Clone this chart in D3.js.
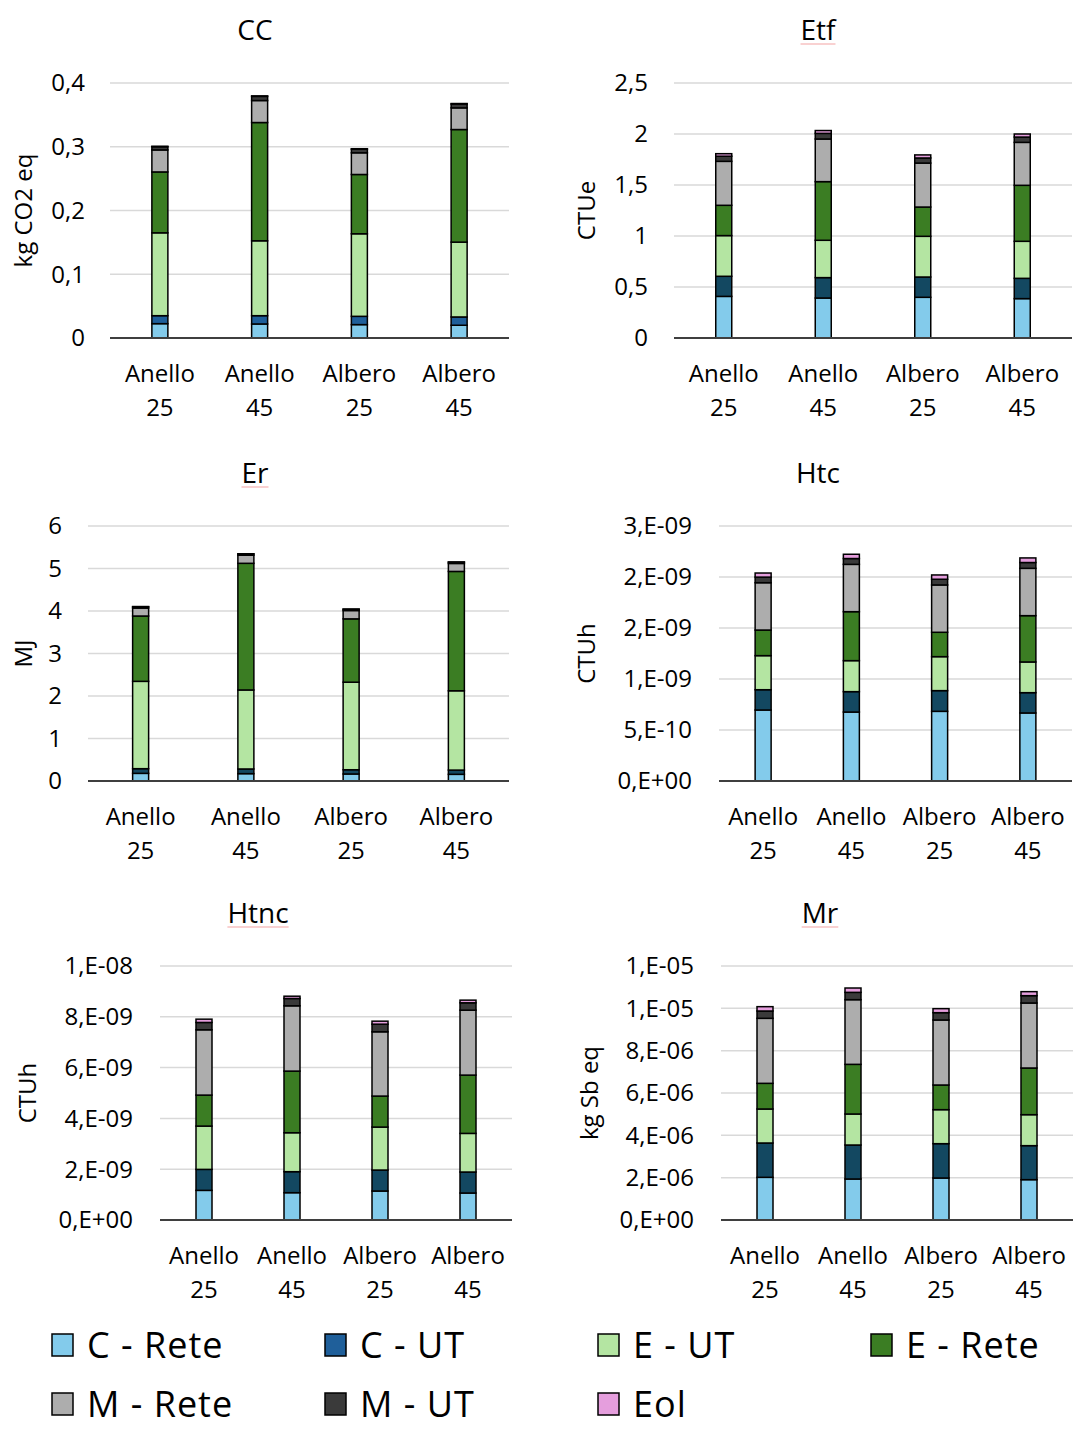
<!DOCTYPE html>
<html>
<head>
<meta charset="utf-8">
<script src="https://cdn.jsdelivr.net/npm/d3@7"></script>
<style>
  body { margin: 0; background: #fff; }
  text { font-family: "Open Sans", "Noto Sans", sans-serif; fill: #000; }
</style>
</head>
<body>
<div id="chart"></div>
<script>
    // categories on the x axis (two lines each)
    var categories = [["Anello", "25"], ["Anello", "45"], ["Albero", "25"], ["Albero", "45"]]
    var seriesNames = ["C - Rete", "C - UT", "E - UT", "E - Rete", "M - Rete", "M - UT", "Eol"]

    // one row per category, one value per series (same order as seriesNames)
    var ccValues = [
        [0.0225, 0.0125, 0.130, 0.0955, 0.0345, 0.005, 0.0008],
        [0.022, 0.013, 0.1175, 0.1855, 0.0345, 0.0065, 0.0008],
        [0.021, 0.013, 0.1295, 0.093, 0.034, 0.0056, 0.0008],
        [0.020, 0.013, 0.1174, 0.1766, 0.034, 0.006, 0.0008]
    ]
    var etfValues = [
        [0.408, 0.197, 0.399, 0.297, 0.431, 0.05, 0.025],
        [0.392, 0.200, 0.366, 0.575, 0.418, 0.055, 0.028],
        [0.399, 0.199, 0.399, 0.287, 0.431, 0.05, 0.03],
        [0.386, 0.199, 0.363, 0.549, 0.421, 0.052, 0.03]
    ]
    var erValues = [
        [0.18, 0.11, 2.055, 1.537, 0.188, 0.03, 0.005],
        [0.173, 0.11, 1.859, 2.98, 0.19, 0.03, 0.005],
        [0.165, 0.10, 2.06, 1.49, 0.196, 0.03, 0.005],
        [0.157, 0.10, 1.866, 2.808, 0.188, 0.03, 0.005]
    ]
    var htcValues = [
        [6.96e-10, 1.99e-10, 3.34e-10, 2.51e-10, 4.64e-10, 0.55e-10, 0.40e-10],
        [6.76e-10, 2.00e-10, 3.04e-10, 4.80e-10, 4.64e-10, 0.57e-10, 0.42e-10],
        [6.83e-10, 2.03e-10, 3.33e-10, 2.39e-10, 4.64e-10, 0.56e-10, 0.42e-10],
        [6.67e-10, 1.99e-10, 3.01e-10, 4.54e-10, 4.64e-10, 0.57e-10, 0.45e-10]
    ]
    var htncValues = [
        [1.167e-9, 0.826e-9, 1.705e-9, 1.22e-9, 2.571e-9, 0.288e-9, 0.13e-9],
        [1.075e-9, 0.827e-9, 1.534e-9, 2.426e-9, 2.571e-9, 0.288e-9, 0.09e-9],
        [1.141e-9, 0.826e-9, 1.692e-9, 1.22e-9, 2.531e-9, 0.30e-9, 0.118e-9],
        [1.062e-9, 0.827e-9, 1.521e-9, 2.295e-9, 2.557e-9, 0.289e-9, 0.105e-9]
    ]
    var mrValues = [
        [2.016e-6, 1.622e-6, 1.606e-6, 1.213e-6, 3.071e-6, 0.346e-6, 0.205e-6],
        [1.937e-6, 1.606e-6, 1.465e-6, 2.346e-6, 3.055e-6, 0.346e-6, 0.205e-6],
        [1.984e-6, 1.622e-6, 1.607e-6, 1.165e-6, 3.071e-6, 0.346e-6, 0.19e-6],
        [1.906e-6, 1.606e-6, 1.464e-6, 2.205e-6, 3.071e-6, 0.346e-6, 0.19e-6]
    ]

    // y ticks and their labels, as printed in the picture
    var ccTicks = [0, 0.1, 0.2, 0.3, 0.4]
    var ccTickLabels = ["0", "0,1", "0,2", "0,3", "0,4"]
    var etfTicks = [0, 0.5, 1, 1.5, 2, 2.5]
    var etfTickLabels = ["0", "0,5", "1", "1,5", "2", "2,5"]
    var erTicks = [0, 1, 2, 3, 4, 5, 6]
    var erTickLabels = ["0", "1", "2", "3", "4", "5", "6"]
    var htcTicks = [0, 5e-10, 1e-9, 1.5e-9, 2e-9, 2.5e-9]
    var htcTickLabels = ["0,E+00", "5,E-10", "1,E-09", "2,E-09", "2,E-09", "3,E-09"]
    var htncTicks = [0, 2e-9, 4e-9, 6e-9, 8e-9, 1e-8]
    var htncTickLabels = ["0,E+00", "2,E-09", "4,E-09", "6,E-09", "8,E-09", "1,E-08"]
    var mrTicks = [0, 2e-6, 4e-6, 6e-6, 8e-6, 1e-5, 1.2e-5]
    var mrTickLabels = ["0,E+00", "2,E-06", "4,E-06", "6,E-06", "8,E-06", "1,E-05", "1,E-05"]

    var colors = ["#83cbeb", "#134861", "#b4e5a2", "#3b7d23", "#adadad", "#3a3a3a", "#e59edd"]
    var ccUtColor = "#1f5f9a"

    var svg = d3.select("#chart").append("svg")
        .attr("width", 1073)
        .attr("height", 1430)
    svg.append("rect").attr("width", 1073).attr("height", 1430).attr("fill", "#fff")

    var panels = [
        {title: "CC", unit: "kg CO2 eq", values: ccValues, ticks: ccTicks, labels: ccTickLabels,
         x0: 110, x1: 509, top: 83, base: 338, labelX: 85, unitX: 24, titleX: 255, squiggle: false, utColor: ccUtColor},
        {title: "Etf", unit: "CTUe", values: etfValues, ticks: etfTicks, labels: etfTickLabels,
         x0: 674, x1: 1072, top: 83, base: 338, labelX: 648, unitX: 587, titleX: 818, squiggle: true},
        {title: "Er", unit: "MJ", values: erValues, ticks: erTicks, labels: erTickLabels,
         x0: 88, x1: 509, top: 526, base: 781, labelX: 62, unitX: 24, titleX: 255, squiggle: true},
        {title: "Htc", unit: "CTUh", values: htcValues, ticks: htcTicks, labels: htcTickLabels,
         x0: 719, x1: 1072, top: 526, base: 781, labelX: 692, unitX: 587, titleX: 818, squiggle: false},
        {title: "Htnc", unit: "CTUh", values: htncValues, ticks: htncTicks, labels: htncTickLabels,
         x0: 160, x1: 512, top: 966, base: 1220, labelX: 133, unitX: 28, titleX: 258, squiggle: true},
        {title: "Mr", unit: "kg Sb eq", values: mrValues, ticks: mrTicks, labels: mrTickLabels,
         x0: 721, x1: 1073, top: 966, base: 1220, labelX: 694, unitX: 590, titleX: 820, squiggle: true}
    ]

    function drawPanel(p) {
        var g = svg.append("g")
        var maxTick = p.ticks[p.ticks.length - 1]
        var y = d3.scaleLinear().domain([0, maxTick]).range([p.base, p.top])
        var x = d3.scaleBand().domain(categories.map(c => c.join(" "))).range([p.x0, p.x1])

        // gridlines
        g.selectAll(".grid")
            .data(p.ticks.slice(1))
            .join("line")
                .attr("x1", p.x0).attr("x2", p.x1)
                .attr("y1", d => y(d)).attr("y2", d => y(d))
                .attr("stroke", "#d9d9d9")
                .attr("stroke-width", 1.5)

        // y tick labels
        g.selectAll(".tick")
            .data(p.ticks)
            .join("text")
                .attr("x", p.labelX)
                .attr("y", d => y(d))
                .attr("dy", "0.35em")
                .attr("text-anchor", "end")
                .attr("font-size", 24)
                .text((d, i) => p.labels[i])

        // stacked bars
        var rows = p.values.map((v, i) => {
            var row = {cat: categories[i].join(" ")}
            seriesNames.forEach((s, j) => row[s] = v[j])
            return row
        })
        var stacked = d3.stack().keys(seriesNames)(rows)
        var barW = 16
        stacked.forEach((layer, j) => {
            g.selectAll(".s" + j)
                .data(layer)
                .join("rect")
                    .attr("x", d => x(d.data.cat) + x.bandwidth()/2 - barW/2)
                    .attr("y", d => y(d[1]))
                    .attr("width", barW)
                    .attr("height", d => y(d[0]) - y(d[1]))
                    .attr("fill", (j == 1 && p.utColor) ? p.utColor : colors[j])
                    .attr("stroke", "#000")
                    .attr("stroke-width", 1.5)
        })

        // baseline axis
        g.append("line")
            .attr("x1", p.x0).attr("x2", p.x1)
            .attr("y1", p.base).attr("y2", p.base)
            .attr("stroke", "#3f3f3f")
            .attr("stroke-width", 2)

        // category labels
        var cats = g.selectAll(".cat")
            .data(categories)
            .join("text")
                .attr("x", d => x(d.join(" ")) + x.bandwidth()/2)
                .attr("y", p.base + 44)
                .attr("text-anchor", "middle")
                .attr("font-size", 24)
        cats.append("tspan").text(d => d[0])
        cats.append("tspan")
            .attr("x", d => x(d.join(" ")) + x.bandwidth()/2)
            .attr("dy", 34)
            .text(d => d[1])

        // unit label
        var midY = (p.top + p.base) / 2
        g.append("text")
            .attr("transform", `translate(${p.unitX},${midY}) rotate(-90)`)
            .attr("text-anchor", "middle")
            .attr("dy", "0.35em")
            .attr("font-size", 24)
            .text(p.unit)

        // title
        var t = g.append("text")
            .attr("x", p.titleX)
            .attr("y", p.top - 43)
            .attr("text-anchor", "middle")
            .attr("font-size", 28)
            .text(p.title)
        if (p.squiggle) {
            var w = t.node().getComputedTextLength()
            g.append("line")
                .attr("x1", p.titleX - w/2).attr("x2", p.titleX + w/2)
                .attr("y1", p.top - 39).attr("y2", p.top - 39)
                .attr("stroke", "#f3a3a3")
                .attr("stroke-width", 1)
        }
    }

    panels.forEach(drawPanel)

    // legend
    var legendX = [52, 325, 598, 871]
    var legendY = [1345, 1404]
    var legend = svg.append("g")
    seriesNames.forEach((s, i) => {
        var lx = legendX[i % 4], ly = legendY[Math.floor(i / 4)]
        legend.append("rect")
            .attr("x", lx).attr("y", ly - 11)
            .attr("width", 21).attr("height", 22)
            .attr("fill", i == 1 ? ccUtColor : colors[i])
            .attr("stroke", "#000")
            .attr("stroke-width", 1.5)
        legend.append("text")
            .attr("x", lx + 35).attr("y", ly)
            .attr("dy", "0.35em")
            .attr("font-size", 36)
            .attr("letter-spacing", 1)
            .text(s)
    })
</script>
</body>
</html>
